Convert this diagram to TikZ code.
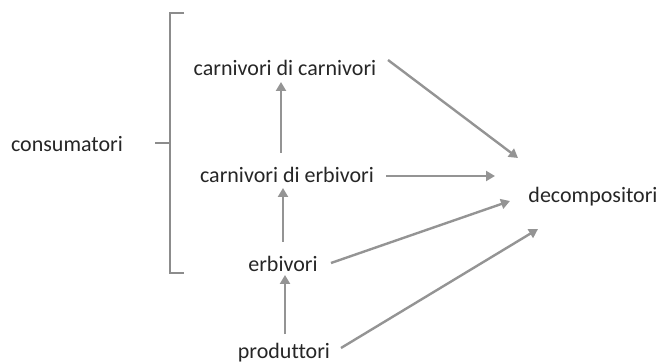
\documentclass[tikz,border=0pt]{standalone}
\usepackage{fontspec}
\setmainfont[RawFeature=-liga]{Carlito}
\usetikzlibrary{arrows.meta}
\begin{document}
\begin{tikzpicture}[x=1pt,y=-1pt,
  lbl/.style={inner sep=0pt, font=\fontsize{22}{26}\selectfont, text=black!85},
  arr/.style={draw=black!42, line width=2.4pt, -{Triangle[length=9pt,width=10pt]}},
  brace/.style={draw=black!45, line width=2.4pt}]
\useasboundingbox (0,0) rectangle (669,363);
\node[lbl] (cc) at (285,68) {carnivori di carnivori};
\node[lbl] (ce) at (287,175) {carnivori di erbivori};
\node[lbl] (er) at (283,264) {erbivori};
\node[lbl] (pr) at (284,353) {produttori};
\node[lbl] (co) at (67,144) {consumatori};
\node[lbl] (de) at (593,197) {decompositori};
\coordinate (b1) at (184,13);
\coordinate (b2) at (170,13);
\coordinate (b3) at (170,273);
\coordinate (b4) at (184,273);
\coordinate (bm) at (170,143);
\coordinate (bl) at (155,143);
\draw[brace] (b1) -- (b2) -- (b3) -- (b4);
\draw[brace] (bm) -- (bl);
\coordinate (ccs) at (281,153);
\coordinate (cct) at (281,82);
\coordinate (ces) at (283,242);
\coordinate (cet) at (283,188);
\coordinate (ers) at (285,334);
\coordinate (ert) at (285,275);
\draw[arr] (ccs) -- (cct);
\draw[arr] (ces) -- (cet);
\draw[arr] (ers) -- (ert);
\coordinate (d1s) at (388,60);
\coordinate (d1t) at (518,158);
\coordinate (d2s) at (386,176);
\coordinate (d2t) at (495,176);
\coordinate (d3s) at (331,263);
\coordinate (d3t) at (510,201);
\coordinate (d4s) at (341,348);
\coordinate (d4t) at (538,229);
\draw[arr] (d1s) -- (d1t);
\draw[arr] (d2s) -- (d2t);
\draw[arr] (d3s) -- (d3t);
\draw[arr] (d4s) -- (d4t);
\end{tikzpicture}
\end{document}
